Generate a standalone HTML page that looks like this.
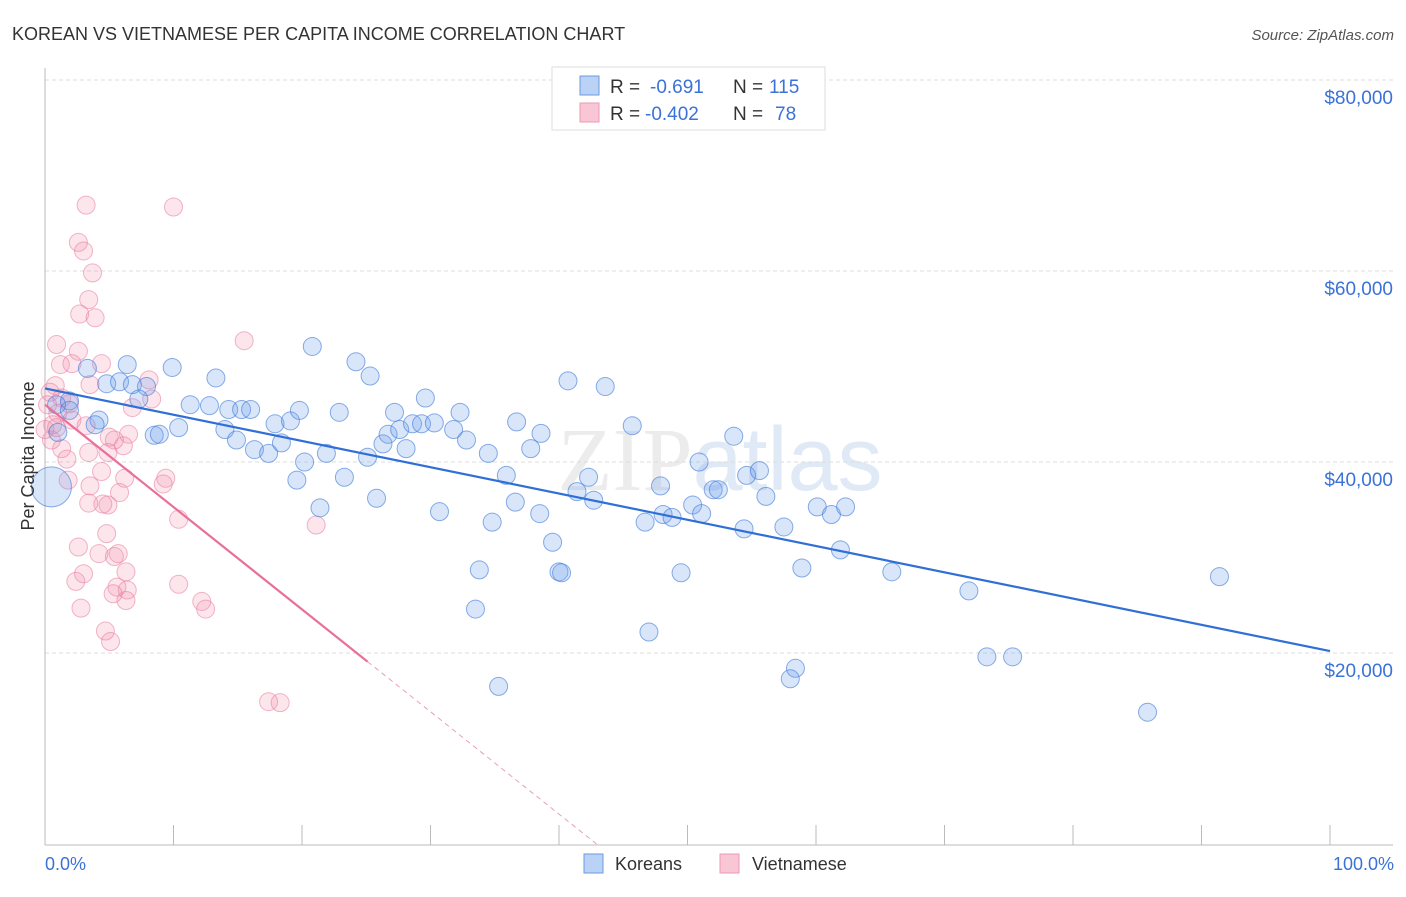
<!DOCTYPE html>
<html><head><meta charset="utf-8"><style>
body{margin:0;background:#fff;font-family:"Liberation Sans",sans-serif}
#wrap{position:relative;width:1406px;height:892px}
</style></head><body>
<div id="wrap">
<svg id="svg" width="1406" height="892" xmlns="http://www.w3.org/2000/svg">
<text x="12" y="40" font-size="18" fill="#333">KOREAN VS VIETNAMESE PER CAPITA INCOME CORRELATION CHART</text>
<text x="1394" y="40" font-size="15" fill="#555" font-style="italic" text-anchor="end">Source: ZipAtlas.com</text>
<text x="720" y="490" font-size="90" fill="#ececec" text-anchor="middle" font-family="Liberation Serif,serif">ZIP<tspan font-family="Liberation Sans,sans-serif" fill="#e0e9f6">atlas</tspan></text>
<g id="grid"></g><g id="axes"></g><g id="pts"></g><g id="lines"></g>
<text transform="translate(34,456) rotate(-90)" font-size="18" fill="#333" text-anchor="middle">Per Capita Income</text>
<text x="45" y="870" font-size="18" fill="#3a72d8">0.0%</text>
<text x="1394" y="870" font-size="18" fill="#3a72d8" text-anchor="end">100.0%</text>
<g>
<rect x="552" y="67" width="273" height="63" fill="#fff" stroke="#ddd"/>
<rect x="580" y="76" width="19" height="19" fill="#b9d2f5" stroke="#6a9be0"/>
<rect x="580" y="103" width="19" height="19" fill="#f9c6d6" stroke="#ec9ab5"/>
<text x="610" y="93" font-size="19" fill="#333">R = <tspan fill="#3a72d8" x="650">-0.691</tspan><tspan x="733">N = </tspan><tspan fill="#3a72d8" x="769">115</tspan></text>
<text x="610" y="120" font-size="19" fill="#333">R = <tspan fill="#3a72d8" x="645">-0.402</tspan><tspan x="733">N = </tspan><tspan fill="#3a72d8" x="775">78</tspan></text>
</g>
<g>
<rect x="584" y="854" width="19" height="19" fill="#b9d2f5" stroke="#6a9be0"/>
<text x="615" y="870" font-size="18" fill="#333">Koreans</text>
<rect x="720" y="854" width="19" height="19" fill="#f9c6d6" stroke="#ec9ab5"/>
<text x="752" y="870" font-size="18" fill="#333">Vietnamese</text>
</g>
</svg></div>
<script>
const yTicks=[20,40,60,80];
const yTickLabels=["$20,000","$40,000","$60,000","$80,000"];
const xTicks=[0,10,20,30,40,50,60,70,80,90,100];
const koreanX=[3.3,6.4,9.9,4.8,5.8,6.8,7.9,7.3,1.9,0.9,1.9,4.2,3.9,8.5,8.9,10.4,11.3,12.8,13.3,14.0,14.9,14.3,15.3,16.0,16.3,17.4,17.9,18.4,19.1,19.8,20.8,20.2,19.6,21.4,21.9,22.9,23.3,24.2,25.3,25.1,25.8,26.3,26.7,27.2,27.6,28.1,28.6,29.3,29.6,30.3,30.7,31.8,32.3,32.8,33.8,33.5,34.5,34.8,35.3,36.6,36.7,35.9,38.5,38.6,37.8,39.5,40.0,40.2,40.7,41.4,42.3,42.7,43.6,45.7,46.7,47.0,47.9,48.1,48.8,49.5,50.4,50.9,51.1,52.0,52.4,53.6,54.4,54.6,55.6,56.1,57.5,58.4,58.0,58.9,60.1,61.2,61.9,62.3,65.9,71.9,73.3,75.3,85.8,91.4,1.0];
const koreanY=[49.8,50.2,49.9,48.2,48.4,48.1,47.9,46.6,46.4,46.0,45.4,44.4,43.9,42.8,42.9,43.6,46.0,45.9,48.8,43.4,42.3,45.5,45.5,45.5,41.3,40.9,44.0,42.0,44.3,45.4,52.1,40.0,38.1,35.2,40.9,45.2,38.4,50.5,49.0,40.5,36.2,41.9,42.9,45.2,43.4,41.4,44.0,44.0,46.7,44.1,34.8,43.4,45.2,42.3,28.7,24.6,40.9,33.7,16.5,35.8,44.2,38.6,34.6,43.0,41.4,31.6,28.5,28.4,48.5,36.9,38.4,36.0,47.9,43.8,33.7,22.2,37.5,34.5,34.2,28.4,35.5,40.0,34.6,37.1,37.1,42.7,33.0,38.6,39.1,36.4,33.2,18.4,17.3,28.9,35.3,34.5,30.8,35.3,28.5,26.5,19.6,19.6,13.8,28.0,43.1];
const koreanBigX=[0.5];
const koreanBigY=[37.4];
const vietX=[0.9,2.6,3.2,10.0,3.0,3.7,3.4,2.7,3.9,2.6,15.5,1.2,2.1,4.4,3.5,8.1,0.8,0.4,1.3,1.9,1.0,0.6,2.1,3.2,5.0,6.1,6.5,5.4,1.3,1.7,3.4,4.9,0.5,1.8,3.5,4.4,5.8,4.9,4.5,3.4,6.2,9.4,10.4,2.6,4.8,4.2,5.4,5.7,6.3,2.4,3.0,5.6,6.4,6.3,5.3,10.4,12.2,12.5,2.8,4.7,5.1,17.4,18.3,21.1,6.8,8.3,9.2,0.2,0.0,0.9];
const vietY=[52.3,63.0,66.9,66.7,62.1,59.8,57.0,55.5,55.1,51.6,52.7,50.2,50.3,50.3,48.1,48.6,48.0,47.3,46.7,46.1,45.1,43.9,44.4,43.8,42.6,41.7,42.9,42.3,41.4,40.3,41.0,41.0,42.3,38.1,37.5,39.0,36.8,35.5,35.6,35.7,38.3,38.3,34.0,31.1,32.5,30.4,30.1,30.4,28.5,27.5,28.3,26.9,26.6,25.5,26.2,27.2,25.4,24.6,24.7,22.3,21.2,14.9,14.8,33.4,45.7,46.6,37.7,46.0,43.4,43.6];
const koreanTrend=[47.7,20.2];
const vietTrend=[46.0,19.1,25.1];
const NS="http://www.w3.org/2000/svg";
const X=v=>45+v*12.85, Y=v=>844-v*9.55;
function mk(tag,attrs,parent){const e=document.createElementNS(NS,tag);for(const k in attrs)e.setAttribute(k,attrs[k]);parent.appendChild(e);return e;}
const grid=document.getElementById('grid'),axes=document.getElementById('axes'),pts=document.getElementById('pts'),lines=document.getElementById('lines');
yTicks.forEach((t,i)=>{
 const l=mk('line',{x1:45,x2:1393,y1:Y(t),y2:Y(t),stroke:'#ddd','stroke-dasharray':'4,3'},grid);
 
 
 const tx=mk('text',{x:1393,y:Y(t)+24,'font-size':19,fill:'#3a72d8','text-anchor':'end'},grid);
 tx.textContent=yTickLabels[i];
 
 
});
const al=mk('line',{x1:45,x2:45,y1:68,y2:845,stroke:'#bbb'},axes);


const bl=mk('line',{x1:45,x2:1393,y1:845,y2:845,stroke:'#bbb'},axes);


xTicks.forEach(t=>{
 const tk=mk('line',{x1:X(t),x2:X(t),y1:825,y2:845,stroke:'#bbb'},axes);
 
 
});
function dot(x,y,r,fill,stroke,name){
 const c=mk('circle',{cx:X(x),cy:Y(y),r:r,fill:fill,stroke:stroke,'stroke-width':1},pts);
 
 
}
vietX.forEach((x,i)=>dot(x,vietY[i],9,'rgba(242,140,170,0.22)','rgba(232,120,160,0.55)','vietnamese-point'));
koreanX.forEach((x,i)=>dot(x,koreanY[i],9,'rgba(110,160,235,0.26)','rgba(60,120,215,0.6)','korean-point'));
koreanBigX.forEach((x,i)=>dot(x,koreanBigY[i],20,'rgba(110,160,235,0.26)','rgba(60,120,215,0.6)','korean-point-large'));
const kt=mk('line',{x1:X(0),y1:Y(koreanTrend[0]),x2:X(100),y2:Y(koreanTrend[1]),stroke:'#2f6fd6','stroke-width':2.2},lines);


const slope=(vietTrend[1]-vietTrend[0])/vietTrend[2];
const vt=mk('line',{x1:X(0),y1:Y(vietTrend[0]),x2:X(vietTrend[2]),y2:Y(vietTrend[1]),stroke:'#e8709a','stroke-width':2.2},lines);


const x0=-vietTrend[0]/slope;
const vd=mk('line',{x1:X(vietTrend[2]),y1:Y(vietTrend[1]),x2:X(x0),y2:Y(0),stroke:'#e8a0b8','stroke-width':1,'stroke-dasharray':'5,4'},lines);


</script>
</body></html>
